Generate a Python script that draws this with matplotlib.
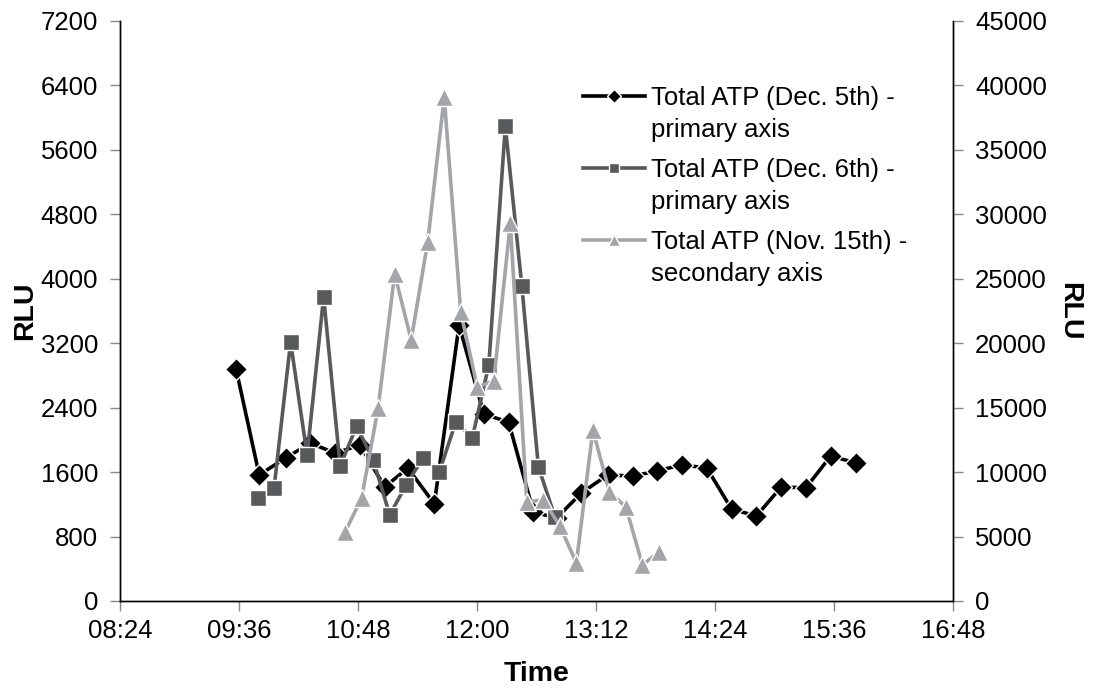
import numpy as np
import matplotlib
matplotlib.use("Agg")
import matplotlib.pyplot as plt
from matplotlib.ticker import FixedLocator, FuncFormatter
from matplotlib.legend_handler import HandlerLine2D

plt.rcParams['font.family'] = ['Liberation Sans', 'DejaVu Sans']

# Sampling times (HH:MM) and total ATP readings (RLU)
dec5_times = ["09:34", "09:48", "10:04", "10:19", "10:34", "10:49", "11:04", "11:18",
              "11:34", "11:49", "12:04", "12:19", "12:34", "12:48", "13:03", "13:19",
              "13:34", "13:49", "14:04", "14:19", "14:34", "14:49", "15:04", "15:19",
              "15:34", "15:49"]
dec5_rlu = [2880, 1565, 1775, 1960, 1835, 1935, 1415, 1650, 1205, 3425, 2320, 2220,
            1105, 1030, 1340, 1565, 1550, 1615, 1690, 1650, 1140, 1055, 1415, 1405,
            1800, 1715]

dec6_times = ["09:47", "09:57", "10:07", "10:17", "10:27", "10:37", "10:47", "10:57",
              "11:07", "11:17", "11:27", "11:37", "11:47", "11:57", "12:07", "12:17",
              "12:27", "12:37", "12:47"]
dec6_rlu = [1280, 1405, 3215, 1810, 3775, 1675, 2170, 1750, 1070, 1440, 1775, 1600,
            2220, 2025, 2930, 5895, 3910, 1665, 1045]

nov15_times = ["10:40", "10:50", "11:00", "11:10", "11:20", "11:30", "11:40", "11:50",
               "12:00", "12:10", "12:20", "12:30", "12:40", "12:50", "13:00", "13:10",
               "13:20", "13:30", "13:40", "13:50"]
nov15_rlu = [5350, 7990, 14970, 25370, 20250, 27850, 39100, 22420, 16600, 17070,
             29330, 7680, 7840, 5820, 2950, 13270, 8460, 7290, 2790, 3800]

x_tick_labels = ["08:24", "09:36", "10:48", "12:00", "13:12", "14:24", "15:36", "16:48"]
primary_ticks = list(range(0, 7201, 800))
secondary_ticks = list(range(0, 45001, 5000))

labels = ["Total ATP (Dec. 5th) -\nprimary axis",
          "Total ATP (Dec. 6th) -\nprimary axis",
          "Total ATP (Nov. 15th) -\nsecondary axis"]


def to_min(s):
    h, m = s.split(":")
    return int(h) * 60 + int(m)


def fmt_time(v, pos=None):
    v = int(round(v))
    return f"{v // 60:02d}:{v % 60:02d}"


FS = 18.5
LABEL_FS = 20.5
BLACK = "#000000"
DARK = "#58595b"
LIGHT = "#a3a5a8"
TICK_COLOR = "#888888"

fig = plt.figure(figsize=(10.94, 6.88), dpi=100)
ax = fig.add_axes([0.1101, 0.1265, 0.761, 0.843])
ax2 = ax.twinx()

l1, = ax.plot([to_min(t) for t in dec5_times], dec5_rlu, color=BLACK, lw=2.6,
              marker="D", ms=11.5, mfc=BLACK, mec="white", mew=1.0, zorder=3)
l2, = ax.plot([to_min(t) for t in dec6_times], dec6_rlu, color=DARK, lw=2.6,
              marker="s", ms=11.5, mfc=DARK, mec="white", mew=1.0, zorder=4)
l3, = ax2.plot([to_min(t) for t in nov15_times], nov15_rlu, color=LIGHT, lw=2.6,
               marker="^", ms=13, mfc=LIGHT, mec="white", mew=1.0, zorder=3)

xticks = [to_min(t) for t in x_tick_labels]
ax.set_xlim(xticks[0], xticks[-1])
ax.xaxis.set_major_locator(FixedLocator(xticks))
ax.xaxis.set_major_formatter(FuncFormatter(fmt_time))
ax.set_ylim(0, 7200)
ax.set_yticks(primary_ticks)
ax2.set_ylim(0, 45000)
ax2.set_yticks(secondary_ticks)

for a in (ax, ax2):
    for sp in a.spines.values():
        sp.set_color("black")
        sp.set_linewidth(1.0)
    a.spines["top"].set_visible(False)

ax.tick_params(axis="x", direction="out", length=7, width=1, color=TICK_COLOR,
               labelsize=FS, pad=6)
ax.tick_params(axis="y", direction="out", length=7, width=1, color=TICK_COLOR,
               labelsize=FS, pad=9)
ax2.tick_params(axis="y", direction="out", length=7, width=1, color=TICK_COLOR,
                labelsize=FS, pad=9)

ax.set_xlabel("Time", fontsize=LABEL_FS, fontweight="bold", labelpad=13)
ax.set_ylabel("RLU", fontsize=LABEL_FS, fontweight="bold", labelpad=2)
ax2.set_ylabel("RLU", fontsize=LABEL_FS, fontweight="bold", rotation=270, labelpad=25)


class FirstLineHandler(HandlerLine2D):
    """Places the legend key beside the first line of a two-line label."""

    def __init__(self, shift, **kw):
        super().__init__(**kw)
        self.shift = shift

    def create_artists(self, legend, orig_handle, xdescent, ydescent, width,
                       height, fontsize, trans):
        arts = super().create_artists(legend, orig_handle, xdescent, ydescent,
                                      width, height, fontsize, trans)
        for a in arts:
            a.set_ydata(np.asarray(a.get_ydata(), dtype=float) + self.shift)
        return arts


shift = 0.71 * FS
hmap = {h: FirstLineHandler(shift) for h in (l1, l2, l3)}
leg = ax2.legend([l1, l2, l3], labels, handler_map=hmap, loc="upper left",
                 bbox_to_anchor=(583 / 1094, 1 - 86 / 688),
                 bbox_transform=fig.transFigure, frameon=False, fontsize=FS,
                 handlelength=2.4, handletextpad=0.25, borderpad=0,
                 borderaxespad=0, labelspacing=0.62, markerscale=0.65)
for t in leg.get_texts():
    t.set_linespacing(1.42)

fig.savefig("out.png", dpi=100)
